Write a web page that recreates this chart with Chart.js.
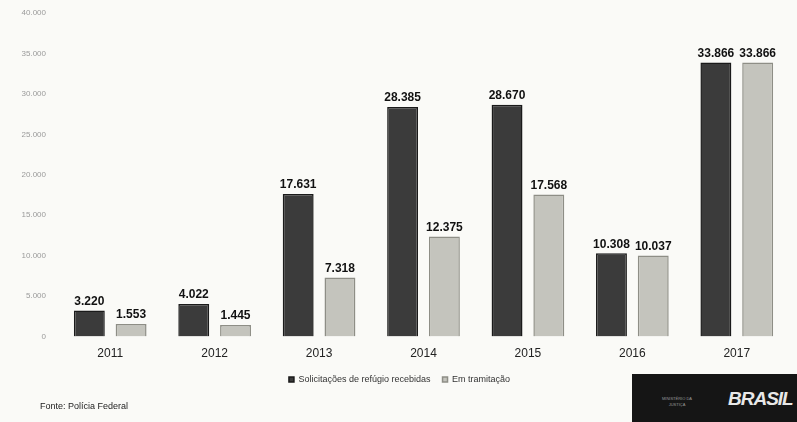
<!DOCTYPE html>
<html>
<head>
<meta charset="utf-8">
<script src="https://cdn.jsdelivr.net/npm/chart.js@4/dist/chart.umd.min.js"></script>
<style>
  html, body { margin: 0; padding: 0; background: #fafaf7; }
  #wrap { position: relative; width: 797px; height: 422px; overflow: hidden; }
  #fonte { position: absolute; left: 40px; top: 401px; font: 9px "Liberation Sans", Arial, sans-serif; color: #222; }
  #logo { position: absolute; left: 632px; top: 374px; width: 170px; height: 50px; background: #151515; }
  #logo .min { position: absolute; left: 30px; top: 22px; font: 4px "Liberation Sans", Arial, sans-serif; color: #999; text-align: center; line-height: 6px; }
  #logo .br { position: absolute; left: 96px; top: 14px; font: italic bold 19px "Liberation Sans", Arial, sans-serif; color: #e8e8e8; letter-spacing: -1px; }
</style>
</head>
<body>
<div id="wrap">
  <canvas id="chart" width="797" height="422"></canvas>
  <div id="fonte">Fonte: Polícia Federal</div>
  <div id="logo"><div class="min">MINISTÉRIO DA<br>JUSTIÇA</div><div class="br">BRASIL</div></div>
</div>
<script>
var years = ['2011', '2012', '2013', '2014', '2015', '2016', '2017'];
var recebidas = [3220, 4022, 17631, 28385, 28670, 10308, 33866];
var tramitacao = [1553, 1445, 7318, 12375, 17568, 10037, 33866];

function fmt(v){
    return v.toString().replace(/\B(?=(\d{3})+(?!\d))/g, '.');
}

// value labels on top of each bar
var barLabels = {
    id: 'barLabels',
    afterDatasetsDraw: function(chart){
        var ctx = chart.ctx;
        ctx.save();
        ctx.font = 'bold 12px "Liberation Sans", Arial, sans-serif';
        ctx.fillStyle = '#111';
        ctx.textAlign = 'center';
        ctx.textBaseline = 'bottom';
        chart.data.datasets.forEach(function(ds, i){
            chart.getDatasetMeta(i).data.forEach(function(bar, j){
                ctx.fillText(fmt(ds.data[j]), bar.x, bar.y - 3);
            });
        });
        ctx.restore();
    }
};

new Chart(document.getElementById('chart'), {
    type: 'bar',
    data: {
        labels: years,
        datasets: [{
            label: 'Solicitações de refúgio recebidas',
            data: recebidas,
            backgroundColor: '#3b3b3b',
            borderColor: '#1a1a1a',
            borderWidth: 1.5
        }, {
            label: 'Em tramitação',
            data: tramitacao,
            backgroundColor: '#c4c4bd',
            borderColor: '#8e8e86',
            borderWidth: 1.5
        }]
    },
    options: {
        responsive: false,
        animation: false,
        layout: { padding: { left: 10, right: 8, top: 13, bottom: 28 } },
        datasets: { bar: { categoryPercentage: 0.8, barPercentage: 0.74 } },
        scales: {
            x: {
                grid: { display: false },
                border: { display: false },
                ticks: { color: '#222', font: { size: 12, family: '"Liberation Sans", Arial, sans-serif' }, padding: 2 }
            },
            y: {
                min: 0,
                max: 40000,
                grid: { display: false },
                border: { display: false },
                afterFit: function(s){ s.width = 48; },
                ticks: {
                    stepSize: 5000,
                    color: '#9a9a9a',
                    padding: 4,
                    font: { size: 8, family: '"Liberation Sans", Arial, sans-serif' },
                    callback: function(v){ return fmt(v); }
                }
            }
        },
        plugins: {
            legend: {
                position: 'bottom',
                labels: {
                    boxWidth: 5,
                    boxHeight: 5,
                    padding: 12,
                    color: '#333',
                    font: { size: 9, family: '"Liberation Sans", Arial, sans-serif' }
                }
            },
            tooltip: { enabled: false }
        }
    },
    plugins: [barLabels]
});
</script>
</body>
</html>
